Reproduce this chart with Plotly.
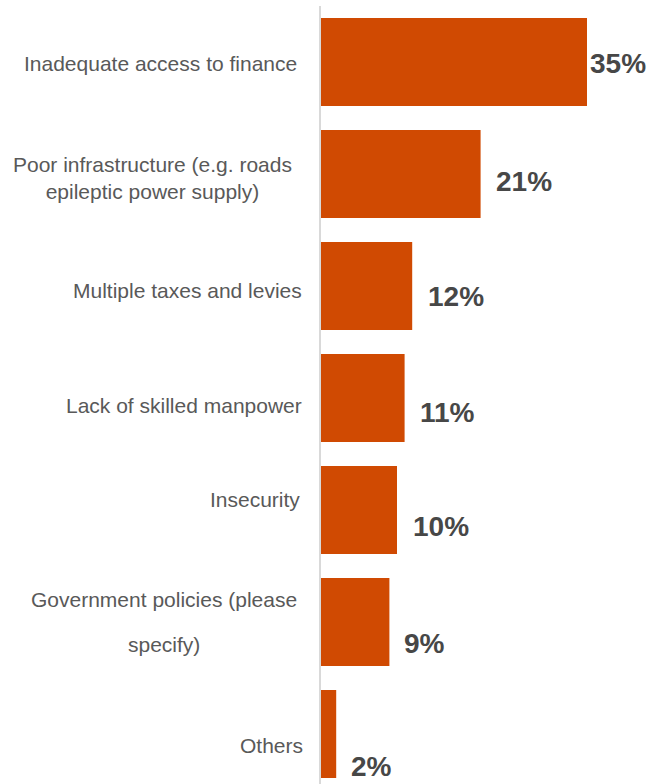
import plotly.graph_objects as go

# Survey responses: biggest constraints to doing business
categories = [
    "Inadequate access to finance",
    "Poor infrastructure (e.g. roads epileptic power supply)",
    "Multiple taxes and levies",
    "Lack of skilled manpower",
    "Insecurity",
    "Government policies (please specify)",
    "Others",
]
values = [35, 21, 12, 11, 10, 9, 2]
value_labels = ["35%", "21%", "12%", "11%", "10%", "9%", "2%"]

# How each category name is broken into text blocks on the left
label_blocks = [
    ["Inadequate access to finance"],
    ["Poor infrastructure (e.g. roads<br>epileptic power supply)"],
    ["Multiple taxes and levies"],
    ["Lack of skilled manpower"],
    ["Insecurity"],
    ["Government policies (please", "specify)"],
    ["Others"],
]

# Text placement tweaks (pixels): vertical offset of each block (down = +)
label_dy = [[1.5], [4], [4.5], [7.5], [-10.5], [-23, 22], [11.5]]
# horizontal: right edge distance from the axis, or centre offset for wrapped labels
label_dx = [-22, -169, -17, -17, -19, -157, -16]
value_dy = [1.5, 7, 10, 14, 16.5, 21, 32]
value_dx = [1, 13, 14, 13, 14, 13, 13]

BAR = "#D04A02"
CAT_TXT = "#595959"
VAL_TXT = "#474747"
FONT = "Arial, Liberation Sans, sans-serif"

fig = go.Figure(
    go.Bar(
        x=values,
        y=categories,
        orientation="h",
        marker=dict(color=BAR, line=dict(width=0)),
        hoverinfo="skip",
    )
)

annotations = []
for i, cat in enumerate(categories):
    blocks = label_blocks[i]
    centred = len(blocks) > 1 or "<br>" in blocks[0]
    for j, block in enumerate(blocks):
        annotations.append(dict(
            x=0, y=cat, xref="x", yref="y",
            text=block, showarrow=False, align="center",
            xanchor="center" if centred else "right",
            yanchor="middle",
            xshift=label_dx[i], yshift=-label_dy[i][j],
            font=dict(family=FONT, size=21, color=CAT_TXT),
        ))
    annotations.append(dict(
        x=values[i], y=cat, xref="x", yref="y",
        text="<b>%s</b>" % value_labels[i], showarrow=False,
        xanchor="left", yanchor="middle",
        xshift=value_dx[i], yshift=-value_dy[i],
        font=dict(family=FONT, size=28, color=VAL_TXT),
    ))

px_per_unit = 7.6
plot_w = 650 - 321
fig.update_layout(
    width=650, height=784,
    margin=dict(l=321, r=0, t=6, b=0),
    paper_bgcolor="white", plot_bgcolor="white",
    showlegend=False,
    bargap=0.214,
    xaxis=dict(range=[0, plot_w / px_per_unit], visible=False, fixedrange=True),
    yaxis=dict(
        type="category",
        categoryorder="array", categoryarray=categories,
        range=[6.446, -0.5],
        showticklabels=False, ticks="",
        showgrid=False, zeroline=False,
        showline=True, linecolor="#D9D9D9", linewidth=1.5,
        fixedrange=True,
    ),
    annotations=annotations,
    font=dict(family=FONT),
)

fig.write_html("out.html")
